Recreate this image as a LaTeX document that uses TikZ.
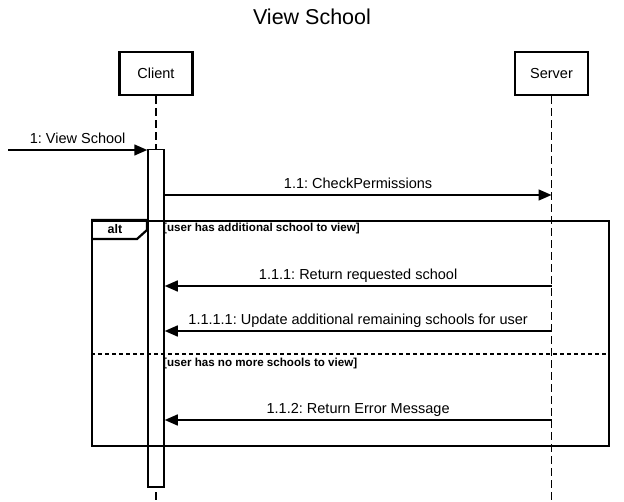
\documentclass[tikz,border=0pt]{standalone}
\usepackage{fontspec}
\setmainfont{Liberation Sans}
\usetikzlibrary{arrows.meta}
\usetikzlibrary{calc}
\frenchspacing
\tikzset{
    lifebox/.style={draw=black, line width=2.2pt, minimum width=73pt, minimum height=43pt, inner sep=0pt, font=\fontsize{14.5}{17}\selectfont},
    lifeline/.style={draw=black, line width=1.5pt, dash pattern=on 8pt off 4pt},
    msg/.style={draw=black, line width=1.5pt, -{Triangle[length=13pt,width=11pt]}},
    msglabel/.style={anchor=base, yshift=6pt, inner sep=0pt, font=\fontsize{14.5}{17}\selectfont},
    guard/.style={anchor=west, inner sep=0pt, font=\bfseries\fontsize{11.6}{14}\selectfont}
}
\newcommand{\drawlifeline}[3]{
    \node [lifebox] (#1) at (#2,73.5) {#3};
    \draw [lifeline] (#1.south) -- (#1.south |- 0,502);
}
\newcommand{\drawmessage}[4]{
    \coordinate (m) at (0,#3);
    \draw [msg] (#1 |- m) -- node[msglabel]{#4} (#2 |- m);
}

\begin{document}
\begin{tikzpicture}[x=1pt, y=-1pt]
    \useasboundingbox (0,0) rectangle (624,502);
    \node [anchor=base, font=\fontsize{21.5}{25}\selectfont] (title) at (312,24.3) {View School};
    \drawlifeline{client}{156}{Client};
    \drawlifeline{server}{551.5}{Server};
    \node [draw=black, fill=white, line width=1.5pt, minimum width=16pt, minimum height=337pt, inner sep=0pt, anchor=north] (act) at (156,149) {};
    \coordinate (found) at (8,150);
    \draw [msg] (found) -- node[msglabel]{1: View School} (act.west |- found);
    \drawmessage{act.east}{server}{195}{1.1: CheckPermissions};
    % alt fragment
    \node [draw=black, line width=2.2pt, minimum width=517pt, minimum height=225pt, inner sep=0pt, anchor=north west] (frame) at (91,220) {};
    \draw [line width=2.2pt] (frame.north west) -- ++(56,0) -- ++(0,10) -- ++(-10,9) -- ++(-46,0);
    \node [font=\bfseries\fontsize{12.5}{14}\selectfont, inner sep=0pt] (alt) at (115,229) {alt};
    \node [guard] (cond1) at (163,228.5) {[user has additional school to view]};
    \drawmessage{server}{act.east}{286}{1.1.1: Return requested school};
    \drawmessage{server}{act.east}{331}{1.1.1.1: Update additional remaining schools for user};
    \coordinate (sep) at (0,354);
    \draw [line width=2.2pt, dash pattern=on 4pt off 3pt] (frame.west |- sep) -- (frame.east |- sep);
    \node [guard] (cond2) at (163,364) {[user has no more schools to view]};
    \drawmessage{server}{act.east}{420}{1.1.2: Return Error Message};
\end{tikzpicture}
\end{document}
